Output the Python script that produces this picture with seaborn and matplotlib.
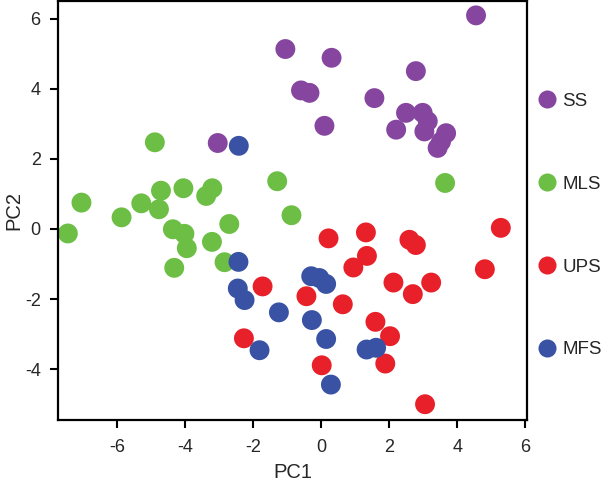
import pandas as pd
import matplotlib.pyplot as plt
import seaborn as sns
from matplotlib.lines import Line2D

# PCA scores, one pair of arrays per group
ss_pc1 = [4.55, -1.06, 0.30, 2.78, -0.60, -0.35, 1.56, 0.09, 2.49, 2.98, 3.13, 2.20, 3.03, 3.67, 3.52, 3.42, -3.05]
ss_pc2 = [6.09, 5.13, 4.88, 4.50, 3.95, 3.88, 3.73, 2.94, 3.31, 3.31, 3.07, 2.83, 2.78, 2.73, 2.49, 2.31, 2.45]

mls_pc1 = [-4.90, -1.30, 3.64, -7.06, -5.88, -5.30, -4.72, -4.78, -4.06, -3.39, -3.21, -2.71, -0.88, -7.46, -4.37, -4.03, -3.96, -3.22, -4.33, -2.85]
mls_pc2 = [2.47, 1.36, 1.31, 0.75, 0.33, 0.73, 1.09, 0.56, 1.16, 0.94, 1.16, 0.14, 0.39, -0.13, -0.01, -0.14, -0.55, -0.37, -1.11, -0.95]

ups_pc1 = [5.28, 0.21, 1.31, 2.59, 2.78, 1.34, 0.94, 4.81, 2.12, 3.23, 2.69, -0.44, 0.63, 1.59, 2.02, 1.88, 0.01, 3.05, -1.73, -2.28]
ups_pc2 = [0.03, -0.27, -0.10, -0.31, -0.46, -0.77, -1.10, -1.15, -1.53, -1.53, -1.86, -1.92, -2.15, -2.65, -3.06, -3.84, -3.89, -5.00, -1.64, -3.12]

mfs_pc1 = [-2.43, -2.44, -2.46, -2.26, -1.25, -1.82, -0.30, -0.06, 0.14, -0.28, 0.14, 1.33, 1.61, 0.28]
mfs_pc2 = [2.37, -0.94, -1.70, -2.03, -2.38, -3.46, -1.35, -1.40, -1.57, -2.60, -3.14, -3.44, -3.39, -4.44]

groups = ["SS", "MLS", "UPS", "MFS"]
colors = {"SS": "#8646a0", "MLS": "#6cbe45", "UPS": "#e8202a", "MFS": "#3a52a3"}

df = pd.concat([
    pd.DataFrame({"PC1": ss_pc1, "PC2": ss_pc2, "group": "SS"}),
    pd.DataFrame({"PC1": mls_pc1, "PC2": mls_pc2, "group": "MLS"}),
    pd.DataFrame({"PC1": ups_pc1, "PC2": ups_pc2, "group": "UPS"}),
    pd.DataFrame({"PC1": mfs_pc1, "PC2": mfs_pc2, "group": "MFS"}),
], ignore_index=True)

sns.set_style("ticks")
plt.rcParams['font.family'] = ['Liberation Sans', 'DejaVu Sans']
plt.rcParams['axes.unicode_minus'] = False

fig = plt.figure(figsize=(6.07, 4.83), dpi=100)
ax = fig.add_axes([58 / 607, 63 / 483, 469 / 607, 419 / 483])

sns.scatterplot(data=df, x="PC1", y="PC2", hue="group", hue_order=groups,
                palette=colors, s=205, linewidth=0, alpha=1, legend=False, ax=ax)

ax.set_xlim(-7.75, 6.05)
ax.set_ylim(-5.45, 6.5)
ax.set_xticks([-6, -4, -2, 0, 2, 4, 6])
ax.set_yticks([-4, -2, 0, 2, 4, 6])
ax.set_xlabel("PC1", fontsize=14.5, labelpad=5)
ax.set_ylabel("PC2", fontsize=14.5, labelpad=1)
ax.tick_params(labelsize=13, length=5.5, width=1.5, color="black")
ax.tick_params(axis="x", pad=8)
ax.tick_params(axis="y", pad=7)
for sp in ax.spines.values():
    sp.set_linewidth(1.6)
    sp.set_color("black")

handles = [Line2D([], [], marker="o", linestyle="", markersize=13,
                  markerfacecolor=colors[g], markeredgewidth=0) for g in groups]
ax.legend(handles, groups, loc="center left", bbox_to_anchor=(1.0235, 0.464),
          frameon=False, fontsize=13.5, handlelength=1.0, handletextpad=0.3,
          labelspacing=3.5, borderpad=0, borderaxespad=0)

plt.savefig("out.png", dpi=100)
